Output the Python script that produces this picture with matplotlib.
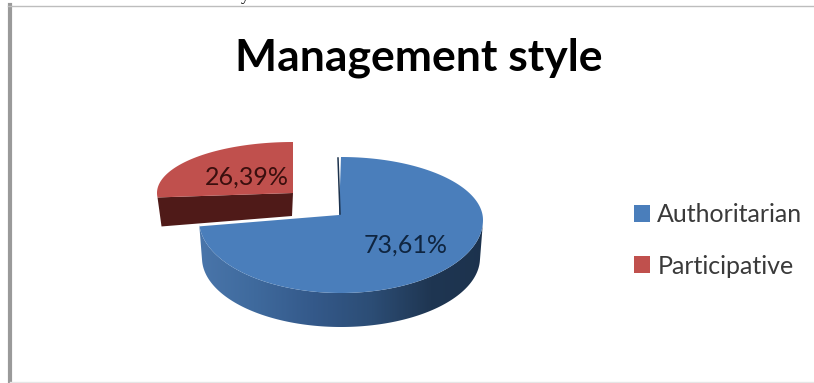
import numpy as np
import matplotlib
matplotlib.use('Agg')
import matplotlib.pyplot as plt
from matplotlib.patches import Polygon, Patch

title = 'Management style'
labels = ['Authoritarian', 'Participative']
values = [73.61, 26.39]
top_colors = ['#4a7ebb', '#c0504d']
text_colors = ['#0f2540', '#3a0f0e']

plt.rcParams['font.family'] = ['Lato', 'DejaVu Sans']


def arc(cx, cy, a, b_up, b_low, t1, t2):
    t = np.radians(np.linspace(t1, t2, 200))
    s = np.sin(t)
    y = cy - np.where(s > 0, b_up, b_low) * s
    return np.column_stack([cx + a * np.cos(t), y])


fig = plt.figure(figsize=(8.14, 3.83), dpi=100)
ax = fig.add_axes([0, 0, 1, 1])

# slice angles come from the values, clockwise from 12 o'clock
start = 90
blue_end = start - values[0] / sum(values) * 360
red_end = blue_end - values[1] / sum(values) * 360

# red slice, pulled out
red_arc = arc(293, 193, 136, 51, 51, blue_end, red_end)
left = red_arc[0]
front = np.array([left, [293, 193], [292, 216], [left[0] + 4, left[1] + 29]])
ax.add_patch(Polygon(front, closed=True, fc='#4f1a18', ec='none', zorder=2))
ax.add_patch(Polygon(np.vstack([[[293, 193]], red_arc]), closed=True, fc=top_colors[1], ec='none', zorder=3))

# blue slice, side wall first
outer = arc(341, 220, 142, 63, 73, start, blue_end)
side = np.vstack([arc(341, 220, 142, 63, 73, -2, -178), arc(341, 258, 139, 65, 69, -178, -2)])
grad = np.linspace(0, 1, 300)[None, :]
cmap = matplotlib.colors.LinearSegmentedColormap.from_list(
    'side', ['#4a76ab', '#3f6a9d', '#34598a', '#2c4d75', '#1f3652', '#1c324d'])
im = ax.imshow(grad, extent=[195, 490, 335, 215], aspect='auto', cmap=cmap, zorder=4)
clip = Polygon(side, closed=True, transform=ax.transData, fc='none', ec='none')
ax.add_patch(clip)
im.set_clip_path(clip)
ax.add_patch(Polygon(np.vstack([[[339, 215]], outer]), closed=True, fc=top_colors[0], ec='none', zorder=5))
ax.plot([338, 340], [158, 214], color='#1c324d', lw=1.1, zorder=6)

# value labels
ax.text(406, 245, f'{values[0]:.2f}%'.replace('.', ','), color=text_colors[0], fontsize=18,
        ha='center', va='center', zorder=7)
ax.text(247, 177, f'{values[1]:.2f}%'.replace('.', ','), color=text_colors[1], fontsize=18,
        ha='center', va='center', zorder=7)

ax.text(419, 58, title, fontsize=32, fontweight='bold', color='black', ha='center', va='center')

handles = [Patch(fc=c, ec='none', label=l) for c, l in zip(top_colors, labels)]
ax.legend(handles=handles, loc='upper left', bbox_to_anchor=(611 / 814, 1 - 181 / 383), frameon=False,
          fontsize=18, labelcolor='#3a3a3a', handlelength=0.66, handleheight=0.66,
          handletextpad=0.29, labelspacing=1.12, borderpad=0.4)

# page frame and the bit of text cut off above it
ax.plot([9.5, 9.5], [5, 383], color='#9a9a9a', lw=3, zorder=1)
ax.plot([8, 814], [5.5, 5.5], color='#bdbdbd', lw=1, zorder=1)
ax.plot([10, 814], [381.5, 381.5], color='#e6e6e6', lw=1, zorder=1)
ax.text(245, -4, 'y', family='Liberation Serif', fontsize=12, ha='center', va='center', color='black')

ax.set_xlim(0, 814)
ax.set_ylim(383, 0)
ax.axis('off')
fig.savefig('out.png', dpi=100, facecolor='white')
